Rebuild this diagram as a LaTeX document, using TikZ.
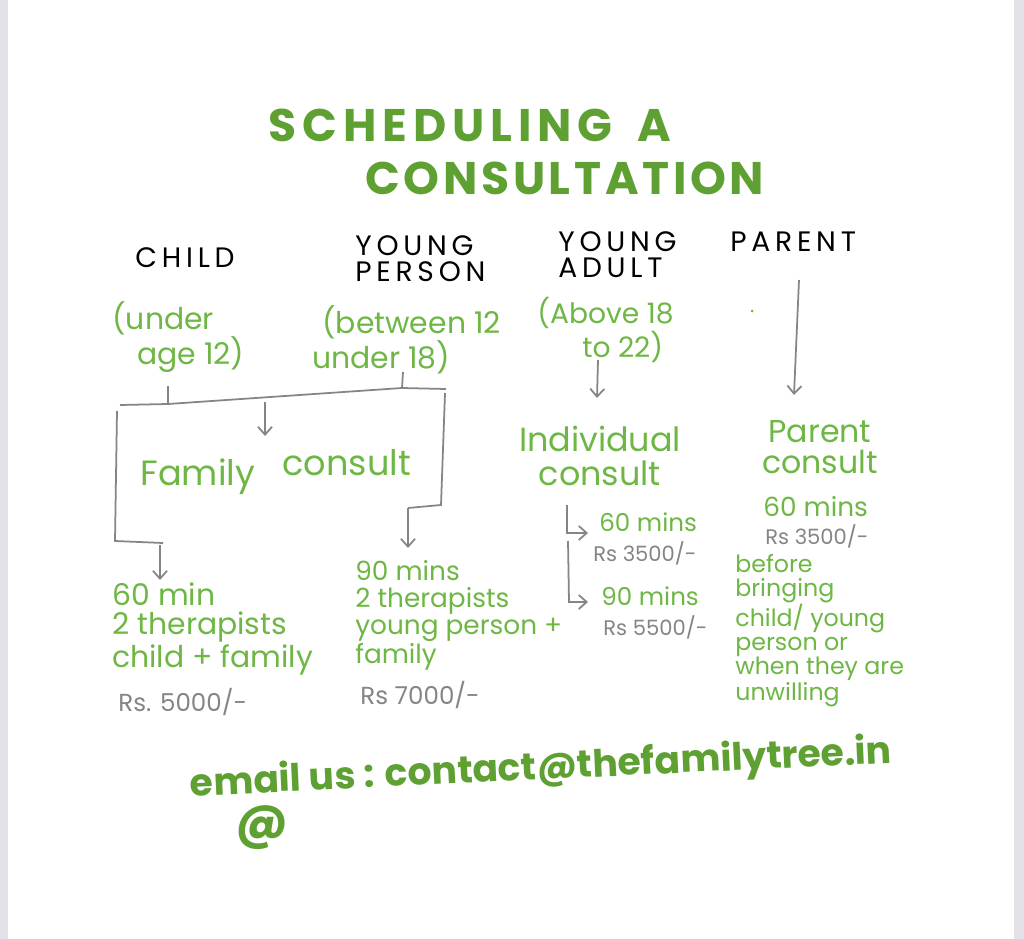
\documentclass[tikz,border=0pt]{standalone}
\usepackage{fontspec}
\setmainfont{Poppins}
\usetikzlibrary{arrows.meta}
\definecolor{leaf}{HTML}{6EB744}
\definecolor{leafdark}{HTML}{5FA033}
\definecolor{pencil}{HTML}{858585}
\definecolor{pagegrey}{HTML}{E4E2E8}

\begin{document}
\begin{tikzpicture}[x=0.02cm,y=-0.02cm,
  title/.style={text=leafdark,font=\fontsize{26}{28}\bfseries\selectfont,inner sep=0pt,anchor=west},
  caps/.style={text=black,font=\fontsize{16}{15}\selectfont\addfontfeature{LetterSpace=17},align=left,inner sep=0pt,anchor=west},
  hand/.style={text=leaf,font=\fontsize{17}{17}\selectfont,align=center,inner sep=0pt},
  price/.style={text=pencil,font=\fontsize{12}{12}\selectfont,inner sep=0pt,anchor=west},
  mail/.style={text=leafdark,font=\fontsize{21.5}{22}\bfseries\selectfont,inner sep=0pt},
  link/.style={pencil,line width=1pt},
  tip/.style={link,-{Straight Barb[length=4.5pt,width=8pt]}}]

\useasboundingbox (0,0) rectangle (1024,939);
\fill[pagegrey] (0,0) rectangle (1024,939);
\fill[white] (8,0) rectangle (1014,939);

\node[title] (ttl1) at (268,125) {\addfontfeature{LetterSpace=13}SCHEDULING\hspace{0.5cm}A};
\node[title] (ttl2) at (365,178) {\addfontfeature{LetterSpace=8}CONSULTATION};

\node[caps] (child) at (135,258) {CHILD};
\node[caps] (yperson) at (355,259) {YOUNG\\PERSON};
\node[caps] (yadult) at (558,255) {YOUNG\\ADULT};
\node[caps] (parent) at (730,242) {PARENT};

\node[hand,align=left,anchor=west] (under) at (112,337) {(under\\\hspace*{0.5cm}age 12)};
\node[hand,align=left,anchor=west] (between) at (312,340) {\hspace*{0.2cm}(between 12\\under 18)};
\node[hand,align=left,anchor=west,font=\fontsize{16}{16}\selectfont] (above) at (537,330) {(Above 18\\\hspace*{0.9cm}to 22)};
\fill[leaf] (752,311) circle (1.5);

\node[hand,anchor=west,font=\fontsize{20}{20}\selectfont] (family) at (140,472) {Family\hspace{0.55cm}\raisebox{6pt}{consult}};
\node[hand,font=\fontsize{19}{19}\selectfont] (indiv) at (600,456) {Individual\\consult};
\node[hand,font=\fontsize{18}{18}\selectfont] (pconsult) at (820,447) {Parent\\consult};

\node[hand,anchor=west,font=\fontsize{14}{14}\selectfont] (i60) at (599,522) {60 mins};
\node[price] (i60rs) at (593,553) {Rs 3500/-};
\node[hand,anchor=west,font=\fontsize{14}{14}\selectfont] (i90) at (601,596) {90 mins};
\node[price] (i90rs) at (603,627) {Rs 5500/-};
\node[hand,anchor=west,font=\fontsize{15}{15}\selectfont] (p60) at (763,507) {60 mins};
\node[price] (p60rs) at (765,536) {Rs 3500/-};
\node[hand,align=left,anchor=north west,font=\fontsize{13.5}{13.5}\selectfont] (before) at (735,554)
  {before\\bringing\\child/ young\\person or\\when they are\\unwilling};

\node[hand,align=left,anchor=north west] (cfamily) at (112,582) {60 min\\2 therapists\\child + family};
\node[price,font=\fontsize{14}{14}\selectfont] (cfamrs) at (118,702) {Rs. 5000/-};
\node[hand,align=left,anchor=north west,font=\fontsize{15}{15.3}\selectfont] (ypfamily) at (355,560)
  {90 mins\\2 therapists\\young person +\\family};
\node[price,font=\fontsize{14}{14}\selectfont] (ypfamrs) at (360,695) {Rs 7000/-};

\node[mail,anchor=west,rotate=2.7] (email) at (190,786) {email us : contact@thefamilytree.in};
\node[mail,font=\fontsize{28}{28}\bfseries\selectfont] (at) at (262,828) {@};

\coordinate (pa) at (799,280); \coordinate (pb) at (794,395);
\coordinate (aa) at (598,360); \coordinate (ab) at (597,398);
\coordinate (bl) at (120,405); \coordinate (bc) at (168,404);
\coordinate (by) at (402,388); \coordinate (br) at (446,389);
\coordinate (ct) at (168,386); \coordinate (yt) at (403,372);
\coordinate (fa) at (265,402); \coordinate (fb) at (265,436);
\coordinate (lt) at (117,411); \coordinate (lb) at (115,541); \coordinate (lc) at (163,543);
\coordinate (la) at (160,545); \coordinate (lz) at (160,580);
\coordinate (rt) at (445,393); \coordinate (rb) at (441,505);
\coordinate (rc) at (408,508); \coordinate (rz) at (408,548);
\coordinate (it) at (567,505); \coordinate (ib) at (567,533); \coordinate (ia) at (588,533);
\coordinate (jt) at (568,541); \coordinate (jb) at (569,602); \coordinate (ja) at (588,602);

\draw[tip] (pa) -- (pb);
\draw[tip] (aa) -- (ab);
\draw[link] (bl) -- (bc) -- (by) -- (br);
\draw[link] (ct) -- (bc);
\draw[link] (yt) -- (by);
\draw[tip] (fa) -- (fb);
\draw[link] (lt) -- (lb) -- (lc);
\draw[tip] (la) -- (lz);
\draw[link] (rt) -- (rb) -- (rc);
\draw[tip] (rc) -- (rz);
\draw[tip] (it) -- (ib) -- (ia);
\draw[tip] (jt) -- (jb) -- (ja);
\end{tikzpicture}
\end{document}
